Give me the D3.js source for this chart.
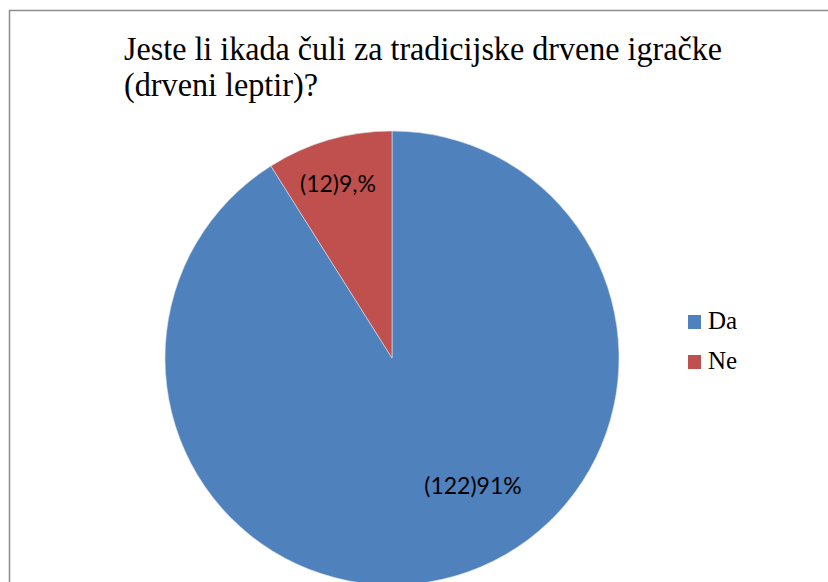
<!DOCTYPE html>
<html>
<head>
<meta charset="utf-8">
<script src="https://cdn.jsdelivr.net/npm/d3@7"></script>
<style>
  body { margin: 0; background: #fff; }
  #chart { width: 828px; height: 582px; }
  .serif { font-family: "Liberation Serif", "Times New Roman", Times, "DejaVu Serif", serif; }
</style>
</head>
<body>
<div id="chart"></div>
<script>
const categories = ["Da", "Ne"];
const counts = [122, 12];
const labels = ["(122)91%", "(12)9,%"];
const colors = ["#4F81BD", "#C0504D"];
const titleLines = ["Jeste li ikada čuli za tradicijske drvene igračke", "(drveni leptir)?"];

const width = 828, height = 582;

const canvas = d3.select("#chart")
    .append("svg")
    .attr("width", width)
    .attr("height", height);

/* chart frame, runs off the right and bottom edges */
canvas.append("rect")
    .attr("x", 9.5)
    .attr("y", 10.5)
    .attr("width", 1000)
    .attr("height", 1000)
    .attr("fill", "none")
    .attr("stroke", "#8c8c8c")
    .attr("stroke-width", 1.5);

/* title */
const title = canvas.append("text")
    .attr("class", "serif")
    .attr("font-size", 33)
    .attr("fill", "#000");

title.append("tspan").attr("x", 124).attr("y", 60)
    .attr("textLength", 598).attr("lengthAdjust", "spacingAndGlyphs")
    .text(titleLines[0]);
title.append("tspan").attr("x", 124).attr("y", 96)
    .attr("textLength", 194).attr("lengthAdjust", "spacingAndGlyphs")
    .text(titleLines[1]);

/* pie */
const cx = 392, cy = 358, radius = 227;

const pie = d3.pie().sort(null).value(d => d);
const arcs = pie(counts);
const arc = d3.arc().innerRadius(0).outerRadius(radius);

const fillScale = d3.scaleOrdinal().domain(categories).range(colors);

const g = canvas.append("g").attr("transform", `translate(${cx},${cy})`);

g.selectAll("path")
    .data(arcs)
    .enter()
    .append("path")
        .attr("d", arc)
        .attr("fill", (d, i) => fillScale(categories[i]))
        .attr("stroke", "#d9e2ee")
        .attr("stroke-width", 0.6);

/* data labels */
const labelPos = [[81, 136], [-54, -166]];
g.selectAll("text.lbl")
    .data(arcs)
    .enter()
    .append("text")
        .attr("class", "lbl")
        .attr("x", (d, i) => labelPos[i][0])
        .attr("y", (d, i) => labelPos[i][1])
        .attr("text-anchor", "middle")
        .attr("font-family", "Lato, 'Open Sans', sans-serif")
        .attr("font-size", 23)
        .attr("fill", "#000")
        .text((d, i) => labels[i]);

/* legend */
const legend = canvas.append("g").attr("transform", "translate(688,315)");
const items = legend.selectAll("g")
    .data(categories)
    .enter()
    .append("g")
        .attr("transform", (d, i) => `translate(0,${i * 40})`);

items.append("rect")
    .attr("width", 13)
    .attr("height", 14)
    .attr("fill", d => fillScale(d));

items.append("text")
    .attr("class", "serif")
    .attr("x", 20)
    .attr("y", 14)
    .attr("font-size", 25)
    .attr("fill", "#000")
    .text(d => d);
</script>
</body>
</html>
